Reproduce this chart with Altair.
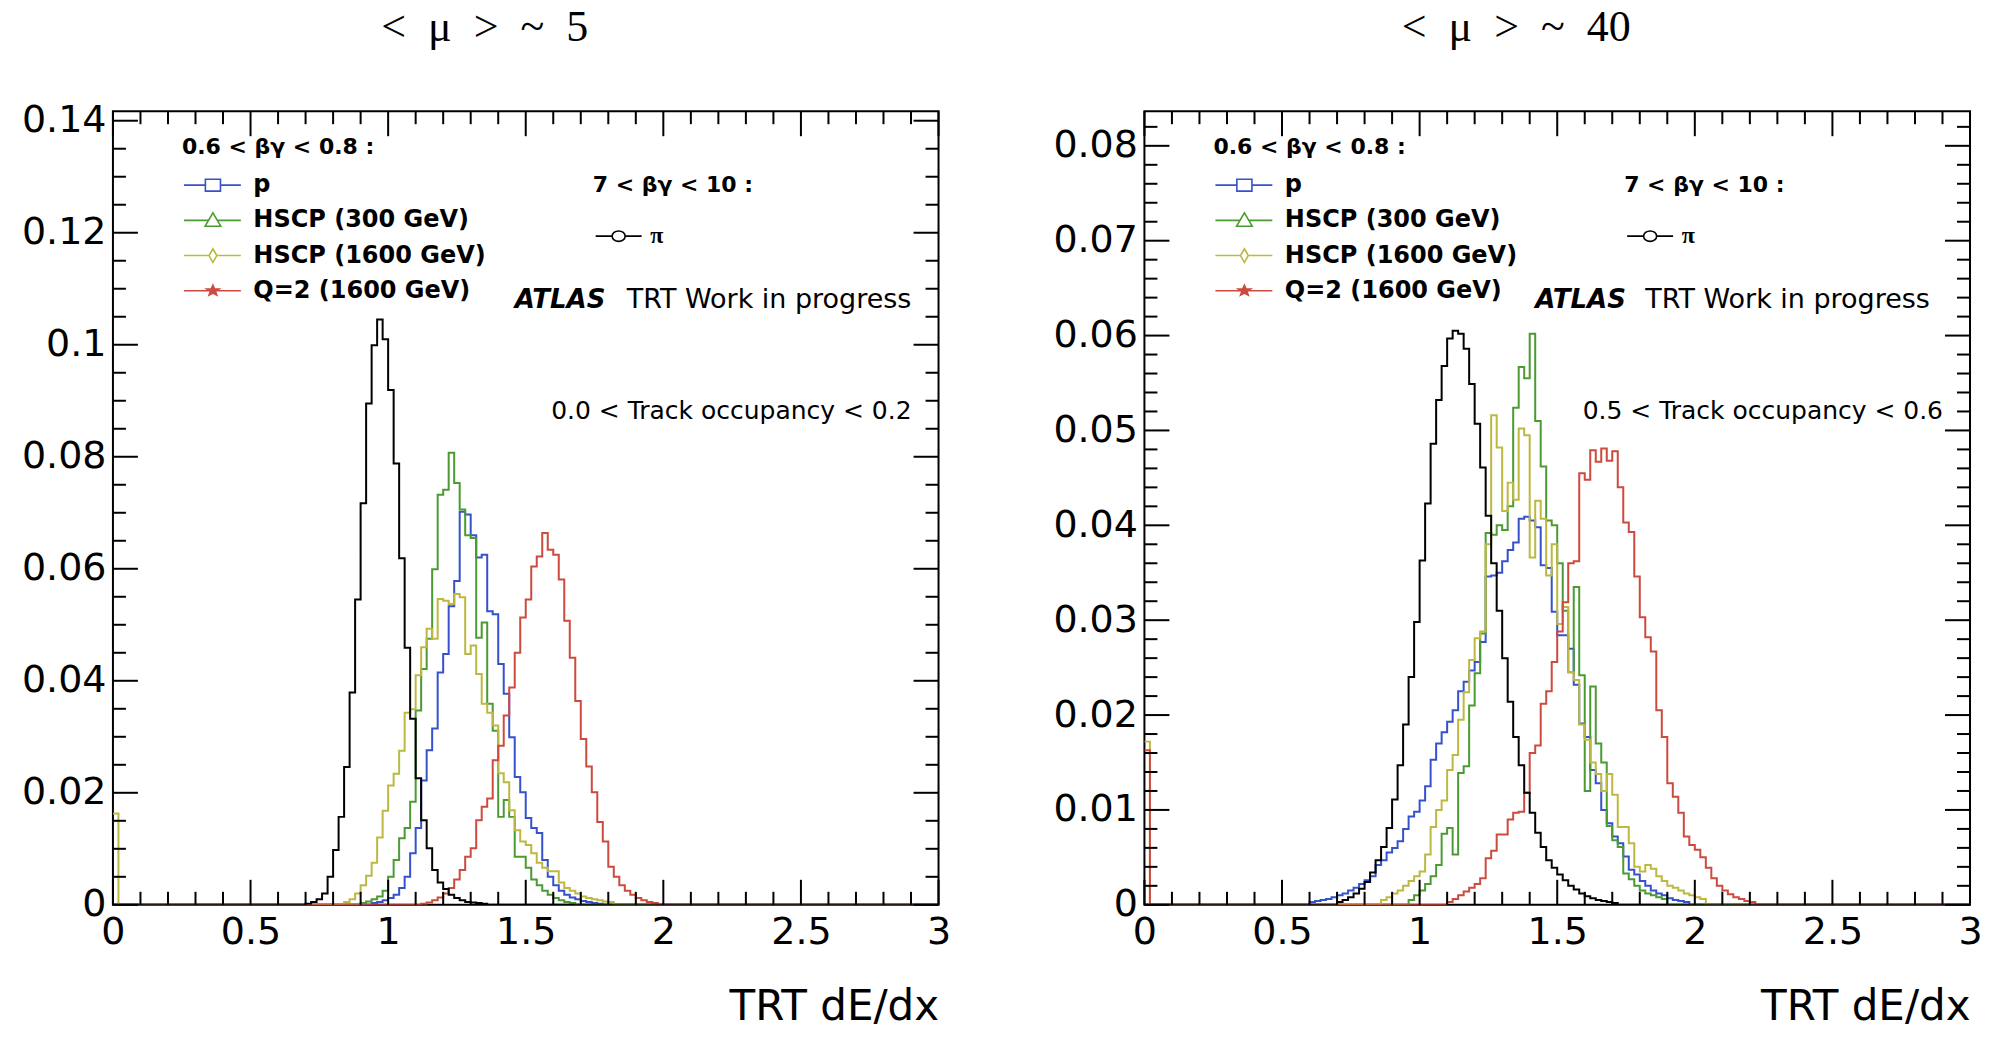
import math
import altair as alt
import pandas as pd

# ------------------------------------------------------------------
# histogram binning (TRT dE/dx from 0 to 3, bins of 0.02)
# ------------------------------------------------------------------
BIN_WIDTH = 0.02
N_BINS = 150
X_MAX = 3.0

SERIES = ["p", "HSCP (300 GeV)", "HSCP (1600 GeV)", "Q=2 (1600 GeV)"]
PI_NAME = "π"
COLORS = {
    "p": "#3552cc",
    "HSCP (300 GeV)": "#4b9a32",
    "HSCP (1600 GeV)": "#bdb840",
    "Q=2 (1600 GeV)": "#cc4a3e",
    "π": "#000000",
}

# ------------------------------------------------------------------
# left panel: <mu> ~ 5, 0.0 < track occupancy < 0.2
# each list holds consecutive bin contents starting at *_START
# ------------------------------------------------------------------
L_PI_START = 0.70
L_PI = [0.0002, 0.0005, 0.001, 0.002, 0.005, 0.0098, 0.0157, 0.0246, 0.0379,
        0.0545, 0.0717, 0.0895, 0.0999, 0.1045, 0.101, 0.0919, 0.0788, 0.0619,
        0.0459, 0.0332, 0.0226, 0.0151, 0.0101, 0.0062, 0.004, 0.0028, 0.0018,
        0.0012, 0.0008, 0.0005, 0.0004, 0.0003, 0.0002]

L_P_START = 0.94
L_P = [0.0003, 0.0005, 0.0008, 0.0012, 0.0018, 0.003, 0.005, 0.0092, 0.0137,
       0.0222, 0.0276, 0.0315, 0.0415, 0.0448, 0.0533, 0.0578, 0.0702, 0.0697,
       0.066, 0.062, 0.0625, 0.0524, 0.0519, 0.043, 0.0377, 0.0299, 0.0228,
       0.0201, 0.0155, 0.0137, 0.0128, 0.008, 0.005, 0.0035, 0.0025, 0.0018,
       0.0013, 0.001, 0.0007, 0.0005, 0.0003, 0.0002]

L_H300_START = 0.90
L_H300 = [0.0003, 0.0006, 0.001, 0.0015, 0.0025, 0.005, 0.008, 0.0119, 0.0137,
          0.0184, 0.0347, 0.0421, 0.0475, 0.0599, 0.0732, 0.0741, 0.0807, 0.0753,
          0.0706, 0.066, 0.0655, 0.0477, 0.0504, 0.0359, 0.0311, 0.0157, 0.0187,
          0.0157, 0.0086, 0.0086, 0.0066, 0.0045, 0.0035, 0.0025, 0.0018, 0.0012,
          0.0008, 0.0005, 0.0003]

L_H1600_FIRST_BIN = 0.0163
L_H1600_START = 0.84
L_H1600 = [0.0005, 0.001, 0.002, 0.0035, 0.0052, 0.0075, 0.012, 0.0168, 0.0213,
           0.0234, 0.0275, 0.0343, 0.0349, 0.041, 0.046, 0.0493, 0.0475, 0.0546,
           0.0543, 0.0537, 0.0555, 0.0549, 0.0448, 0.0463, 0.0412, 0.0359, 0.0343,
           0.032, 0.0235, 0.0219, 0.0169, 0.0133, 0.0113, 0.0107, 0.0092, 0.0075,
           0.0066, 0.006, 0.006, 0.004, 0.003, 0.0025, 0.002, 0.0015, 0.0012,
           0.001, 0.0008, 0.0006, 0.0005]

L_Q2_START = 1.12
L_Q2 = [0.0002, 0.0004, 0.0008, 0.0013, 0.002, 0.003, 0.0045, 0.0062, 0.0086,
        0.0101, 0.0151, 0.0175, 0.019, 0.0258, 0.0284, 0.0338, 0.0388, 0.045,
        0.0513, 0.0545, 0.0604, 0.0622, 0.0664, 0.0634, 0.0625, 0.0581, 0.0507,
        0.0441, 0.0364, 0.0296, 0.0247, 0.0201, 0.0148, 0.0113, 0.0068, 0.005,
        0.0035, 0.0025, 0.0018, 0.0012, 0.0008, 0.0005, 0.0003]

# ------------------------------------------------------------------
# right panel: <mu> ~ 40, 0.5 < track occupancy < 0.6
# ------------------------------------------------------------------
R_PI_START = 0.70
R_PI = [0.0003, 0.0005, 0.0008, 0.0012, 0.0017, 0.0024, 0.0034, 0.0047, 0.0061,
        0.0081, 0.0111, 0.0147, 0.019, 0.024, 0.0298, 0.0363, 0.0423, 0.0486,
        0.0532, 0.0568, 0.0597, 0.0605, 0.0602, 0.0586, 0.0549, 0.0507, 0.0461,
        0.041, 0.036, 0.031, 0.026, 0.0214, 0.0177, 0.0147, 0.0118, 0.0097,
        0.0076, 0.0061, 0.0047, 0.0039, 0.0032, 0.0026, 0.002, 0.0016, 0.0012,
        0.0009, 0.0007, 0.0005, 0.0004, 0.0003, 0.0002]

R_P_START = 0.60
R_P = [0.0003, 0.0004, 0.0005, 0.0006, 0.0008, 0.001, 0.0012, 0.0015, 0.0018,
       0.0022, 0.0026, 0.003, 0.0042, 0.0047, 0.0055, 0.006, 0.0067, 0.008,
       0.0093, 0.0098, 0.011, 0.0125, 0.0153, 0.017, 0.0182, 0.0193, 0.0205,
       0.0225, 0.0235, 0.0247, 0.0256, 0.0277, 0.0346, 0.0347, 0.035, 0.0362,
       0.0374, 0.0382, 0.0407, 0.0409, 0.0405, 0.0398, 0.0358, 0.0355, 0.0309,
       0.0284, 0.0284, 0.027, 0.0232, 0.0191, 0.0177, 0.0142, 0.0128, 0.01,
       0.0086, 0.0072, 0.0065, 0.0051, 0.0037, 0.0032, 0.0025, 0.002, 0.0015,
       0.0012, 0.001, 0.0007, 0.0005, 0.0004, 0.0003]

R_H300_START = 0.96
R_H300 = [0.0005, 0.001, 0.0015, 0.0022, 0.003, 0.0042, 0.0075, 0.0081, 0.0053,
          0.0139, 0.0146, 0.021, 0.0244, 0.0286, 0.0392, 0.039, 0.040, 0.0395,
          0.042, 0.0524, 0.0567, 0.0555, 0.0602, 0.051, 0.0462, 0.0405, 0.040,
          0.036, 0.031, 0.0245, 0.0335, 0.0242, 0.012, 0.023, 0.017, 0.015,
          0.0083, 0.0068, 0.0061, 0.0033, 0.0027, 0.002, 0.0015, 0.0012, 0.001,
          0.0008, 0.0006]

R_H1600_FIRST_BIN = 0.0172
R_H1600_START = 0.86
R_H1600 = [0.0005, 0.0008, 0.0012, 0.0015, 0.002, 0.0025, 0.003, 0.0035, 0.0053,
           0.0082, 0.01, 0.011, 0.0142, 0.0158, 0.0195, 0.0224, 0.0258, 0.0281,
           0.0288, 0.038, 0.0516, 0.0482, 0.0415, 0.0445, 0.0427, 0.0502, 0.0495,
           0.0366, 0.0426, 0.0407, 0.0347, 0.038, 0.0296, 0.0314, 0.0245, 0.0237,
           0.019, 0.0174, 0.015, 0.0138, 0.012, 0.0138, 0.0116, 0.0082, 0.0082,
           0.0065, 0.004, 0.0035, 0.0042, 0.0038, 0.003, 0.0025, 0.002, 0.0018,
           0.0015, 0.0012, 0.001, 0.0008, 0.0006]

R_Q2_FIRST_BIN = 0.0163
R_Q2_START = 1.10
R_Q2 = [0.0003, 0.0006, 0.001, 0.0014, 0.0018, 0.0022, 0.0028, 0.0049, 0.0057,
        0.0074, 0.0074, 0.009, 0.0097, 0.0098, 0.0118, 0.016, 0.0168, 0.0212,
        0.0225, 0.0256, 0.0288, 0.0319, 0.036, 0.0362, 0.0455, 0.0448, 0.0479,
        0.0467, 0.0481, 0.0468, 0.0478, 0.044, 0.0403, 0.0393, 0.0346, 0.0303,
        0.0282, 0.0267, 0.0205, 0.0177, 0.0128, 0.0114, 0.0097, 0.0072, 0.0063,
        0.0058, 0.005, 0.0039, 0.0028, 0.002, 0.0015, 0.0011, 0.0008, 0.0006,
        0.0004, 0.0003]

# ------------------------------------------------------------------
# axes: tick values and ranges
# ------------------------------------------------------------------
X_MAJOR = [0, 0.5, 1, 1.5, 2, 2.5, 3]
X_MINOR = [round(0.1 * i, 1) for i in range(31) if i % 5 != 0]
L_YMAX = 0.1417
L_Y_MAJOR = [0, 0.02, 0.04, 0.06, 0.08, 0.1, 0.12, 0.14]
L_Y_MINOR = [round(0.005 * i, 3) for i in range(29) if i % 4 != 0]
R_YMAX = 0.08365
R_Y_MAJOR = [0, 0.01, 0.02, 0.03, 0.04, 0.05, 0.06, 0.07, 0.08]
R_Y_MINOR = [round(0.002 * i, 3) for i in range(42) if i % 5 != 0]

W, H = 826, 794
MAJOR_LEN, MINOR_LEN = 25, 13
SANS = "DejaVu Sans"
SERIF = "Liberation Serif"


def hist_df(start, values, first_bin=0.0):
    full = [0.0] * N_BINS
    full[0] = first_bin
    i0 = int(round(start / BIN_WIDTH))
    for k, v in enumerate(values):
        full[i0 + k] = v
    xs = [i * BIN_WIDTH for i in range(N_BINS)] + [X_MAX]
    ys = full + [full[-1]]
    return pd.DataFrame({"x": xs, "y": ys})


# ---------------- legend symbols (line + marker) -------------------
def line_with_gap(s, e, m, gap):
    return f"M{s:.3f},0L{m - gap:.3f},0M{m + gap:.3f},0L{e:.3f},0"


def square(m, hw=0.58, hh=0.46):
    return line_with_gap(-0.92, 3.46, m, hw) + \
        f"M{m - hw:.3f},{-hh:.3f}H{m + hw:.3f}V{hh:.3f}H{m - hw:.3f}Z"


def triangle(m, hw=0.6, top=-0.58, bot=0.45):
    return line_with_gap(-0.92, 3.46, m, 0.33) + \
        f"M{m:.3f},{top:.3f}L{m + hw:.3f},{bot:.3f}L{m - hw:.3f},{bot:.3f}Z"


def diamond(m, hw=0.3, hh=0.52):
    return line_with_gap(-0.92, 3.46, m, hw) + \
        f"M{m:.3f},{-hh:.3f}L{m + hw:.3f},0L{m:.3f},{hh:.3f}L{m - hw:.3f},0Z"


def star(m, radii=(0.42, 0.32, 0.22, 0.12)):
    # a small solid-looking star: nested outlines
    out = line_with_gap(-0.92, 3.46, m, 0.3)
    for ro in radii:
        ri = ro * 0.42
        pts = []
        for k in range(10):
            r = ro if k % 2 == 0 else ri
            a = -math.pi / 2 + k * math.pi / 5
            pts.append((m + r * math.cos(a) * 1.2, r * math.sin(a)))
        out += "M" + "L".join(f"{x:.3f},{y:.3f}" for x, y in pts) + "Z"
    return out


def circle(m, rx=0.5, ry=0.4):
    return line_with_gap(-0.85, 2.69, m, rx) + \
        f"M{m - rx:.3f},0A{rx},{ry} 0 1,0 {m + rx:.3f},0A{rx},{ry} 0 1,0 {m - rx:.3f},0Z"


M1 = 1.31
PATHS4 = [square(M1), triangle(M1), diamond(M1), star(M1)]
PATH_PI = [circle(0.92)]


def legend_def(title, x, y, label_font, title_pad, label_offset):
    return alt.Legend(
        title=title, orient="none", legendX=x, legendY=y, direction="vertical",
        titleFont=SANS, titleFontSize=22, titleFontWeight="bold", titleColor="black",
        titlePadding=title_pad, titleLimit=600,
        labelFont=label_font, labelFontSize=24, labelFontWeight="bold",
        labelColor="black", labelOffset=label_offset, labelLimit=600,
        symbolSize=676, symbolStrokeWidth=1.6, symbolOpacity=1,
        rowPadding=9.2, padding=0,
    )


def panel(hists, ymax, y_major, y_minor, title, occupancy, atlas_x, trt_x):
    xs = alt.Scale(domain=[0, X_MAX], nice=False, zero=False)
    ys = alt.Scale(domain=[0, ymax], nice=False, zero=False)
    x_axis = alt.Axis(values=X_MAJOR, format="~g", ticks=False, domain=False, grid=False,
                      labelFont=SANS, labelFontSize=38, labelColor="black", labelPadding=9,
                      labelFlush=False, title="TRT dE/dx", titleFont=SANS, titleFontSize=42,
                      titleFontWeight="normal", titleColor="black", titleAnchor="end",
                      titlePadding=35)
    y_axis = alt.Axis(values=y_major, format="~g", ticks=False, domain=False, grid=False,
                      labelFont=SANS, labelFontSize=38, labelColor="black", labelPadding=7,
                      labelFlush=False, title=None)

    layers = []
    for name, df in hists:
        layers.append(
            alt.Chart(df).mark_line(interpolate="step-after", strokeWidth=2,
                                    color=COLORS[name], clip=True)
            .encode(x=alt.X("x:Q", scale=xs, axis=x_axis),
                    y=alt.Y("y:Q", scale=ys, axis=y_axis))
        )

    # inward ticks on all four sides (ROOT style)
    def xticks(vals, length):
        df = pd.DataFrame({"x": vals})
        base = alt.Chart(df).mark_rule(color="black", strokeWidth=2)
        bottom = base.encode(x=alt.X("x:Q", scale=xs, axis=x_axis),
                             y=alt.value(H), y2=alt.value(H - length))
        top = base.encode(x=alt.X("x:Q", scale=xs, axis=x_axis),
                          y=alt.value(0), y2=alt.value(length))
        return [bottom, top]

    def yticks(vals, length):
        df = pd.DataFrame({"y": vals})
        base = alt.Chart(df).mark_rule(color="black", strokeWidth=2)
        left = base.encode(y=alt.Y("y:Q", scale=ys, axis=y_axis),
                           x=alt.value(0), x2=alt.value(length))
        right = base.encode(y=alt.Y("y:Q", scale=ys, axis=y_axis),
                            x=alt.value(W - length), x2=alt.value(W))
        return [left, right]

    layers += xticks(X_MAJOR, MAJOR_LEN) + xticks(X_MINOR, MINOR_LEN)
    layers += yticks(y_major, MAJOR_LEN) + yticks(y_minor, MINOR_LEN)

    # legends
    leg1 = legend_def("0.6 < βγ < 0.8 :", 69, 26, SANS, 12, 43.5)
    layers.append(
        alt.Chart(pd.DataFrame({"series": SERIES})).mark_point(filled=False, opacity=0)
        .encode(color=alt.Color("series:N", scale=alt.Scale(domain=SERIES, range=[COLORS[s] for s in SERIES]), legend=leg1),
                shape=alt.Shape("series:N", scale=alt.Scale(domain=SERIES, range=PATHS4), legend=leg1))
    )
    leg2 = legend_def("7 < βγ < 10 :", 480, 64, SERIF, 25, 29.5)
    layers.append(
        alt.Chart(pd.DataFrame({"series": [PI_NAME]})).mark_point(filled=False, opacity=0)
        .encode(color=alt.Color("series:N", scale=alt.Scale(domain=[PI_NAME], range=[COLORS[PI_NAME]]), legend=leg2),
                shape=alt.Shape("series:N", scale=alt.Scale(domain=[PI_NAME], range=PATH_PI), legend=leg2))
    )

    # text annotations
    def label(txt, x, y, size, align="left", weight="normal", style="normal",
              font=SANS, baseline="middle"):
        return alt.Chart(pd.DataFrame({"t": [txt]})).mark_text(
            align=align, baseline=baseline, font=font, fontSize=size,
            fontWeight=weight, fontStyle=style, color="black"
        ).encode(x=alt.value(x), y=alt.value(y), text="t:N")

    layers.append(label("ATLAS", atlas_x, 189, 26, weight="bold", style="italic"))
    layers.append(label("TRT Work in progress", trt_x, 189, 27))
    layers.append(label(occupancy, 799, 300, 25, align="right"))
    # panel heading above the frame
    layers.append(label(title, 372, -70, 44, align="center", font=SERIF, baseline="alphabetic"))

    return alt.layer(*layers).resolve_scale(color="independent", shape="independent").properties(
        width=W, height=H,
    )


left_hists = [
    ("p", hist_df(L_P_START, L_P)),
    ("HSCP (300 GeV)", hist_df(L_H300_START, L_H300)),
    ("HSCP (1600 GeV)", hist_df(L_H1600_START, L_H1600, L_H1600_FIRST_BIN)),
    ("Q=2 (1600 GeV)", hist_df(L_Q2_START, L_Q2)),
    ("π", hist_df(L_PI_START, L_PI)),
]
right_hists = [
    ("p", hist_df(R_P_START, R_P)),
    ("HSCP (300 GeV)", hist_df(R_H300_START, R_H300)),
    ("HSCP (1600 GeV)", hist_df(R_H1600_START, R_H1600, R_H1600_FIRST_BIN)),
    ("Q=2 (1600 GeV)", hist_df(R_Q2_START, R_Q2, R_Q2_FIRST_BIN)),
    ("π", hist_df(R_PI_START, R_PI)),
]

SP = "\u2002"
left = panel(left_hists, L_YMAX, L_Y_MAJOR, L_Y_MINOR, f"<{SP}μ{SP}>{SP}~{SP}5",
             "0.0 < Track occupancy < 0.2", 402, 514)
right = panel(right_hists, R_YMAX, R_Y_MAJOR, R_Y_MINOR, f"<{SP}μ{SP}>{SP}~{SP}40",
              "0.5 < Track occupancy < 0.6", 391, 501)

chart = alt.hconcat(left, right, spacing=206, bounds="flush").properties(
    padding={"left": 20, "top": 5, "right": 6, "bottom": 0},
    background="white",
).configure_view(stroke="black", strokeWidth=2)

chart.save("out.html", embed_options={"renderer": "svg", "actions": False})
